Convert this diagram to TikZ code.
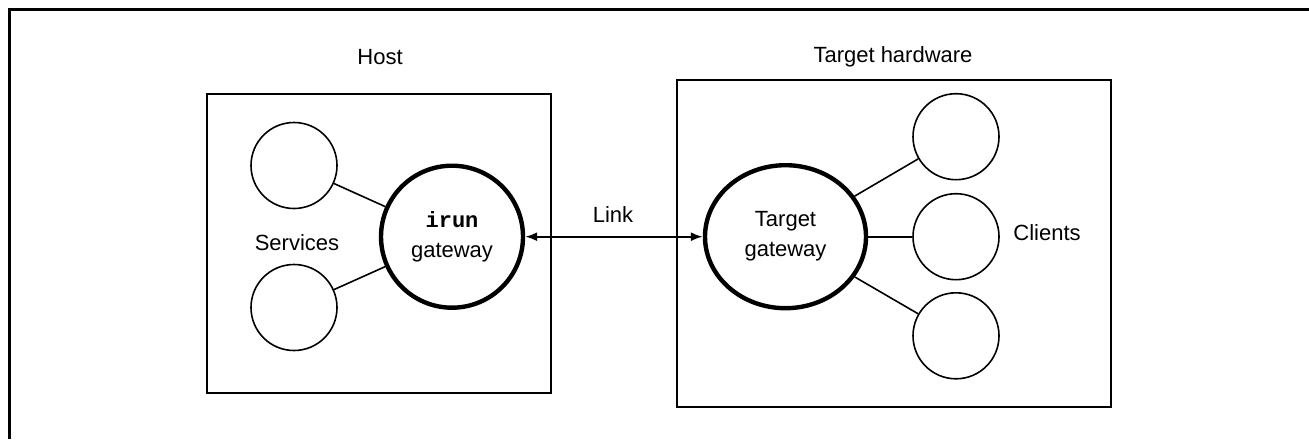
\documentclass[tikz,border=0pt]{standalone}
\usepackage{fontspec}
\setmainfont{Liberation Sans}
\setmonofont{Liberation Mono}
\usetikzlibrary{shapes.geometric,arrows.meta}

\tikzset{
  box/.style={draw, line width=0.8pt, rectangle, inner sep=0pt},
  peer/.style={draw, line width=0.8pt, circle, minimum size=43pt, inner sep=0pt},
  gate/.style={draw, line width=2.2pt, align=center, inner sep=0pt,
    font=\fontsize{11}{15}\selectfont},
  label/.style={font=\fontsize{11}{13}\selectfont, inner sep=0pt},
  wire/.style={line width=0.8pt},
  linkarrow/.style={line width=1pt, {Latex[length=6pt,width=4.5pt]}-{Latex[length=6pt,width=4.5pt]}}
}

\begin{document}
\begin{tikzpicture}[x=0.5pt, y=-0.5pt]
  \useasboundingbox (0,0) rectangle (1309,439);

  % page frame: top and left rules only
  \coordinate (frameTR) at (1309,9.5);
  \coordinate (frameTL) at (9.5,9.5);
  \coordinate (frameBL) at (9.5,439);
  \draw[line width=1.1pt] (frameTR) -- (frameTL) -- (frameBL);

  % host side
  \node[box, minimum width=172pt, minimum height=149.5pt] (host) at (379,243.5) {};
  \node[label] (hostlbl) at (380,57) {Host};
  \node[peer] (svcA) at (294,165.5) {};
  \node[peer] (svcB) at (294,307.5) {};
  \node[label] (svclbl) at (297,243) {Services};
  \node[gate, circle, minimum size=71pt] (irun) at (452,236.7)
    {\textbf{\ttfamily irun}\\gateway};

  % target side
  \node[box, minimum width=217pt, minimum height=163.5pt] (target) at (894,243.5) {};
  \node[label] (targetlbl) at (893,57) {Target hardware};
  \node[gate, ellipse, minimum width=80.5pt, minimum height=71.5pt] (tgw) at (785.5,236.7)
    {Target\\gateway};
  \node[peer] (cliA) at (956,136.7) {};
  \node[peer] (cliB) at (956,236.7) {};
  \node[peer] (cliC) at (956,335.8) {};
  \node[label] (clilbl) at (1047,233) {Clients};

  % connections
  \draw[wire] (svcA) -- (irun);
  \draw[wire] (svcB) -- (irun);
  \draw[wire] (tgw) -- (cliA);
  \draw[wire] (tgw) -- (cliB);
  \draw[wire] (tgw) -- (cliC);

  \draw[linkarrow] (irun) -- (tgw);
  \node[label] (linklbl) at (613,215) {Link};
\end{tikzpicture}
\end{document}
